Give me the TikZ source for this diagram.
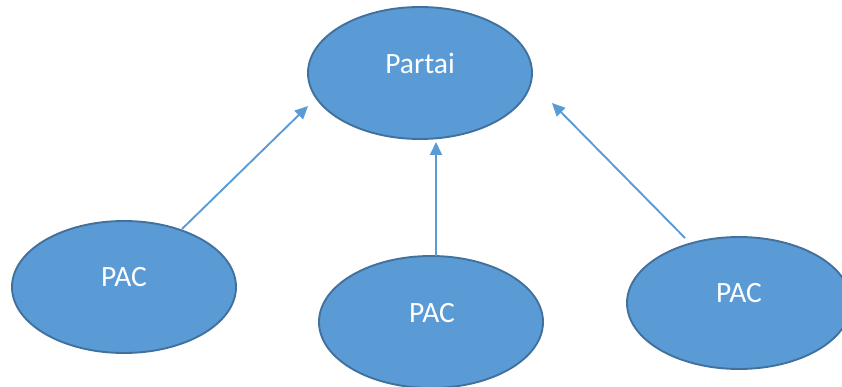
\documentclass[tikz,border=0pt]{standalone}
\usepackage{fontspec}
\setmainfont{Carlito}
\usetikzlibrary{shapes.geometric,arrows.meta}
\definecolor{bubble}{HTML}{5B9BD5}
\definecolor{rim}{HTML}{41719C}
\tikzset{
  bubblenode/.style={ellipse, draw=rim, line width=1.9pt, fill=bubble,
    minimum width=224pt, minimum height=132pt, inner sep=0pt},
  caption/.style={text=white, font=\fontsize{29.5}{33}\selectfont, inner sep=0pt},
  link/.style={draw=bubble, line width=1.9pt, -{Triangle[length=13pt,width=12pt]}}
}
\begin{document}
\begin{tikzpicture}[x=1pt,y=-1pt]
  \useasboundingbox (0,0) rectangle (842,387);
  % party at the top
  \node[bubblenode] (partai) at (420,73) {};
  \node[caption] (tpartai) at (420,63) {Partai};
  % three PACs below
  \node[bubblenode] (pac1) at (124,287) {};
  \node[caption] (tpac1) at (124,277) {PAC};
  \node[bubblenode] (pac2) at (431,322) {};
  \node[caption] (tpac2) at (432,313) {PAC};
  \node[bubblenode] (pac3) at (739,303) {};
  \node[caption] (tpac3) at (739,293) {PAC};
  % arrow ends
  \coordinate (s1) at (182,229);
  \coordinate (e1) at (308,106);
  \coordinate (s2) at (436,256);
  \coordinate (e2) at (436,142);
  \coordinate (s3) at (685,238);
  \coordinate (e3) at (552,103);
  \draw[link] (s1) -- (e1);
  \draw[link] (s2) -- (e2);
  \draw[link] (s3) -- (e3);
\end{tikzpicture}
\end{document}
